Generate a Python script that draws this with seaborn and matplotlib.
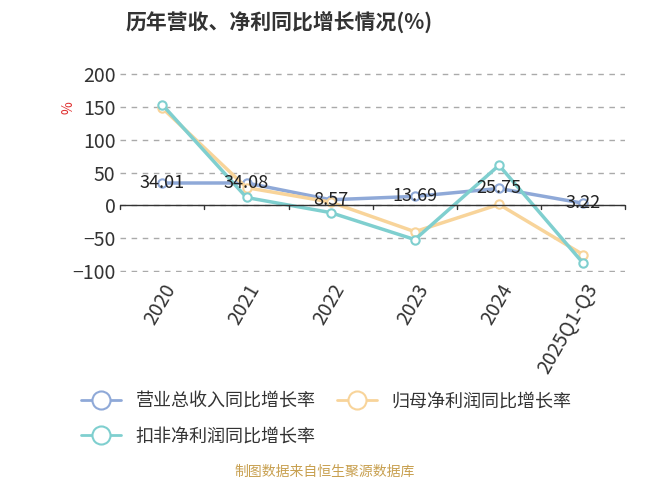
import matplotlib
matplotlib.use("Agg")
import matplotlib.pyplot as plt
import seaborn as sns
import pandas as pd
from matplotlib.lines import Line2D

sns.set_style("white")
plt.rcParams['font.family'] = ['Noto Sans CJK SC', 'DejaVu Sans']

categories = ["2020", "2021", "2022", "2023", "2024", "2025Q1-Q3"]
revenue = [34.01, 34.08, 8.57, 13.69, 25.75, 3.22]
net_profit = [148, 27, 5, -40, 1.5, -75]
deducted = [153, 12, -11, -52, 61, -88]
series_names = ["营业总收入同比增长率", "归母净利润同比增长率", "扣非净利润同比增长率"]
colors = ["#8fa9d8", "#f8d49a", "#7fcfcf"]

df = pd.DataFrame({"x": list(range(len(categories))) * 3,
                   "v": revenue + net_profit + deducted,
                   "s": sum([[n] * len(categories) for n in series_names], [])})

fig = plt.figure(figsize=(6.5, 4.88), dpi=100)
ax = fig.add_axes([0.185, 0.443, 0.777, 0.407])
for name, c in zip(series_names, colors):
    d = df[df.s == name]
    sns.lineplot(data=d, x="x", y="v", ax=ax, color=c, lw=2.5, marker="o",
                 markersize=6, markerfacecolor="white", markeredgecolor=c,
                 markeredgewidth=1.5, legend=False)
for i, v in enumerate(revenue):
    ax.text(i, v, f"{v:.2f}", ha="center", va="center", fontsize=13, color="#222")

ax.set_xlim(-0.5, len(categories) - 0.5)
ax.set_ylim(-101, 201)
ax.set_yticks(range(-100, 201, 50))
ax.tick_params(axis="y", labelsize=14, colors="#333", length=0)
ax.set_xticks(range(len(categories)))
ax.set_xticklabels(categories, rotation=60, fontsize=14, color="#333", ha="right", rotation_mode="anchor")
ax.tick_params(axis="x", length=0, pad=6)
for b in [i + 0.5 for i in range(-1, len(categories))]:
    ax.plot([b, b], [0, -6], color="#333", lw=1, clip_on=False)
ax.grid(axis="y", ls=(0, (4, 4)), color="#aaaaaa", lw=1)
ax.axhline(0, color="#333", lw=1)
for s in ax.spines.values():
    s.set_visible(False)
ax.set_xlabel("")
ax.set_ylabel("")

fig.text(0.105, 0.78, "%", color="#e03030", fontsize=10, rotation=90, ha="center", va="center")
fig.text(0.43, 0.955, "历年营收、净利同比增长情况(%)", fontsize=15, fontweight="bold",
         color="#333", ha="center", va="center")

handles = [Line2D([], [], color=c, lw=2, marker="o", markersize=13,
                  markerfacecolor="white", markeredgecolor=c, markeredgewidth=1.5)
           for c in colors]
fig.legend(handles[:2], series_names[:2], loc="center left", bbox_to_anchor=(0.1, 0.178),
           ncol=2, frameon=False, fontsize=13, handlelength=2.2, columnspacing=1.2,
           labelcolor="#333")
fig.legend(handles[2:], series_names[2:], loc="center left", bbox_to_anchor=(0.1, 0.105),
           frameon=False, fontsize=13, handlelength=2.2, labelcolor="#333")
fig.text(0.5, 0.018, "制图数据来自恒生聚源数据库", fontsize=10, color="#c8a050", ha="center", va="bottom")

fig.savefig("out.png", dpi=100)
